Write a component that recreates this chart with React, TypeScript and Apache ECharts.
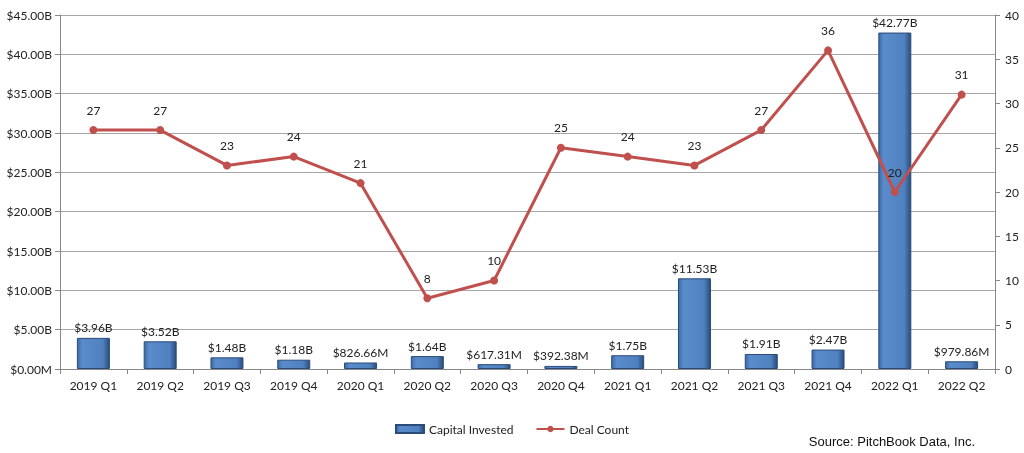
import React, { useEffect, useRef } from "react";
import * as echarts from "echarts";

const categories = ["2019 Q1","2019 Q2","2019 Q3","2019 Q4","2020 Q1","2020 Q2","2020 Q3","2020 Q4","2021 Q1","2021 Q2","2021 Q3","2021 Q4","2022 Q1","2022 Q2"];
const capitalInvestedB = [3.96, 3.52, 1.48, 1.18, 0.82666, 1.64, 0.61731, 0.39238, 1.75, 11.53, 1.91, 2.47, 42.77, 0.97986];
const dealCount = [27, 27, 23, 24, 21, 8, 10, 25, 24, 23, 27, 36, 20, 31];

const fmtMoney = (v: number) => (v < 1 ? `$${(v * 1000).toFixed(2)}M` : `$${v.toFixed(2)}B`);
const fmtAxis = (v: number) => (v === 0 ? "$0.00M" : `$${v.toFixed(2)}B`);

export default function App() {
  const ref = useRef<HTMLDivElement>(null);
  useEffect(() => {
    if (!ref.current) return;
    const chart = echarts.init(ref.current, null, { renderer: "svg" });
    const font = "Lato";
    chart.setOption({
      animation: false,
      textStyle: { fontFamily: font },
      grid: { left: 60, right: 29, top: 15, bottom: 84 },
      legend: {
        bottom: 13,
        left: "center",
        itemGap: 22,
        itemWidth: 28,
        itemHeight: 8,
        textStyle: { fontFamily: font, fontSize: 12, color: "#222" },
        data: [
          { name: "Capital Invested", icon: "rect" },
          { name: "Deal Count" },
        ],
      },
      graphic: [
        {
          type: "text",
          right: 49,
          bottom: 5,
          style: { text: "Source: PitchBook Data, Inc.", fontFamily: "Liberation Sans", fontSize: 13, fill: "#111" },
        },
      ],
      xAxis: {
        type: "category",
        data: categories,
        axisLine: { lineStyle: { color: "#888" } },
        axisTick: { show: true, alignWithLabel: false, lineStyle: { color: "#888" }, length: 5 },
        axisLabel: { color: "#222", fontSize: 12, margin: 10, fontFamily: font },
      },
      yAxis: [
        {
          type: "value",
          min: 0,
          max: 45,
          interval: 5,
          axisLine: { show: true, lineStyle: { color: "#888" } },
          axisTick: { show: true, length: 5, lineStyle: { color: "#888" } },
          axisLabel: { formatter: fmtAxis, color: "#222", fontSize: 12, margin: 8, fontFamily: font },
          splitLine: { lineStyle: { color: "#a6a6a6" } },
        },
        {
          type: "value",
          min: 0,
          max: 40,
          interval: 5,
          axisLine: { show: true, lineStyle: { color: "#888" } },
          axisTick: { show: true, length: 5, lineStyle: { color: "#888" } },
          axisLabel: { color: "#222", fontSize: 12, margin: 10, fontFamily: font },
          splitLine: { show: false },
        },
      ],
      series: [
        {
          name: "Capital Invested",
          type: "bar",
          data: capitalInvestedB,
          barWidth: 33,
          itemStyle: {
            color: new echarts.graphic.LinearGradient(0, 0, 1, 0, [
              { offset: 0, color: "#3c6aa6" },
              { offset: 0.15, color: "#5a8bcb" },
              { offset: 0.8, color: "#4f80bf" },
              { offset: 1, color: "#2a4d7a" },
            ]),
            borderColor: "#2b4c78",
            borderWidth: 1,
          },
          label: {
            show: true,
            position: "top",
            distance: 4,
            formatter: (p: any) => fmtMoney(p.value),
            color: "#222",
            fontSize: 12,
            fontFamily: font,
          },
          z: 1,
        },
        {
          name: "Deal Count",
          type: "line",
          yAxisIndex: 1,
          data: dealCount,
          symbol: "circle",
          symbolSize: 8,
          lineStyle: { color: "#c0504d", width: 3 },
          itemStyle: { color: "#c0504d" },
          label: { show: true, position: "top", distance: 10, color: "#222", fontSize: 12, fontFamily: font },
          z: 3,
        },
      ],
    });
    return () => chart.dispose();
  }, []);
  return <div ref={ref} style={{ position: "fixed", left: 0, top: 0, width: 1024, height: 453 }} />;
}
